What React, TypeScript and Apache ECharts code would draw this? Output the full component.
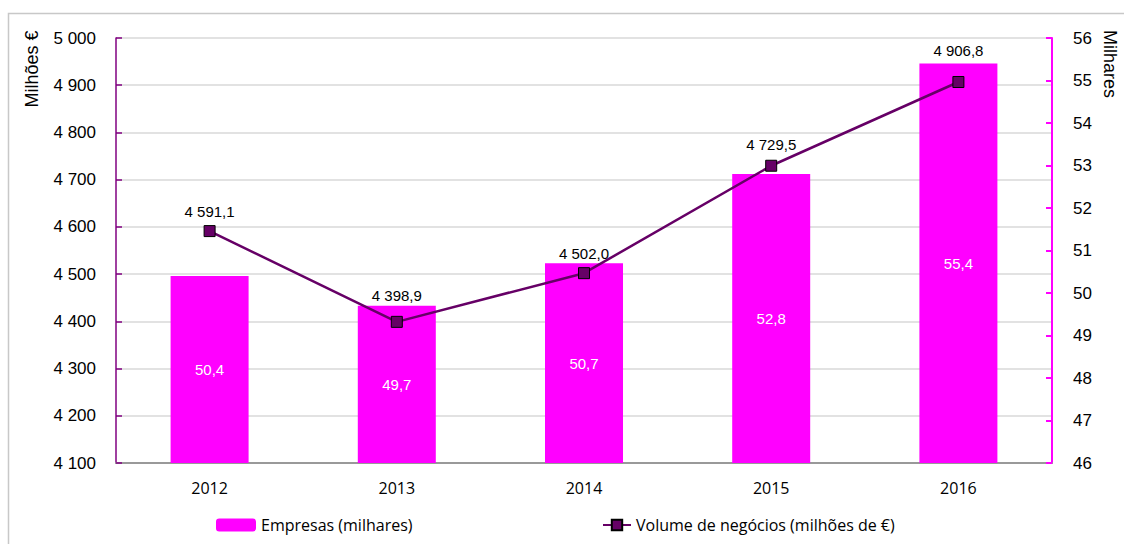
import React, { useEffect, useRef } from "react";
import * as echarts from "echarts";

const years = ["2012", "2013", "2014", "2015", "2016"];
const empresas = [50.4, 49.7, 50.7, 52.8, 55.4];
const volume = [4591.1, 4398.9, 4502.0, 4729.5, 4906.8];
const leftName = "Milhões €";
const rightName = "Milhares";
const barName = "Empresas (milhares)";
const lineName = "Volume de negócios (milhões de €)";
// label spacing above each line point (style, not data)
const lineLabelGap = [6, 13, 6, 8, 18];

function fmtThousands(v: number, decimals: number): string {
  const fixed = v.toFixed(decimals);
  const [intPart, dec] = fixed.split(".");
  const withSpace = intPart.replace(/\B(?=(\d{3})+(?!\d))/g, " ");
  return dec !== undefined ? withSpace + "," + dec : withSpace;
}

export default function App() {
  const ref = useRef<HTMLDivElement>(null);
  useEffect(() => {
    document.body.style.margin = "0";
    const chart = echarts.init(ref.current!, null, { renderer: "svg" });
    const axisFont = "Arial, 'Liberation Sans', sans-serif";
    const calibri = "'Open Sans', 'Noto Sans', sans-serif";
    chart.setOption({
      animation: false,
      backgroundColor: "#ffffff",
      grid: { left: 116, right: 72, top: 38, height: 425, containLabel: false },
      graphic: [
        {
          type: "rect",
          shape: { x: 8.5, y: 13.5, width: 1130, height: 560 },
          style: { fill: "none", stroke: "#c8c8c8", lineWidth: 1.5 },
          silent: true,
          z: -10,
        },
        {
          type: "text",
          x: 32,
          y: 69,
          rotation: Math.PI / 2,
          style: {
            text: leftName,
            fill: "#000",
            font: "18px Arial, 'Liberation Sans', sans-serif",
            align: "center",
            verticalAlign: "middle",
          },
        },
        {
          type: "text",
          x: 1110,
          y: 64,
          rotation: -Math.PI / 2,
          style: {
            text: rightName,
            fill: "#000",
            font: "18px Arial, 'Liberation Sans', sans-serif",
            align: "center",
            verticalAlign: "middle",
          },
        },
      ],
      legend: [
        {
          data: [barName],
          left: 211,
          top: 512,
          itemWidth: 40,
          itemHeight: 13,
          itemGap: 4,
          textStyle: { fontFamily: calibri, fontSize: 16, color: "#000" },
        },
        {
          data: [lineName],
          left: 597,
          top: 512,
          itemWidth: 28,
          itemHeight: 13,
          textStyle: { fontFamily: calibri, fontSize: 16, color: "#000" },
        },
      ],
      xAxis: {
        type: "category",
        data: years,
        axisLine: { lineStyle: { color: "#999999", width: 2 } },
        axisTick: { inside: true, length: 6, lineStyle: { color: "#999999", width: 2 } },
        axisLabel: { color: "#000", fontFamily: calibri, fontSize: 16, margin: 17 },
      },
      yAxis: [
        {
          type: "value",
          min: 4100,
          max: 5000,
          interval: 100,
          axisLine: { show: true, lineStyle: { color: "#800080", width: 1.5 } },
          axisTick: { show: true, inside: true, length: 6, lineStyle: { color: "#800080", width: 1.5 } },
          axisLabel: {
            color: "#000",
            fontFamily: axisFont,
            fontSize: 17,
            margin: 20,
            formatter: (v: number) => fmtThousands(v, 0),
          },
          splitLine: { show: true, lineStyle: { color: "#d9d9d9", width: 1.5 } },
        },
        {
          type: "value",
          min: 46,
          max: 56,
          interval: 1,
          startValue: 46,
          position: "right",
          axisLine: { show: true, lineStyle: { color: "#ff00ff", width: 2 } },
          axisTick: { show: true, inside: true, length: 6, lineStyle: { color: "#ff00ff", width: 2 } },
          axisLabel: { color: "#000", fontFamily: axisFont, fontSize: 17, margin: 21 },
          splitLine: { show: false },
        },
      ],
      series: [
        {
          name: barName,
          type: "bar",
          yAxisIndex: 1,
          data: empresas,
          barWidth: 78,
          itemStyle: { color: "#ff00ff" },
          label: {
            show: true,
            position: "inside",
            color: "#ffffff",
            fontFamily: axisFont,
            fontSize: 15,
            formatter: (p: any) => fmtThousands(p.value, 1),
          },
          z: 2,
        },
        {
          name: lineName,
          type: "line",
          yAxisIndex: 0,
          data: volume.map((v, i) => ({ value: v, label: { distance: lineLabelGap[i] } })),
          symbol: "rect",
          symbolSize: 11,
          lineStyle: { color: "#660066", width: 2.5 },
          itemStyle: { color: "#660066", borderColor: "#000000", borderWidth: 1 },
          label: {
            show: true,
            position: "top",
            distance: 6,
            color: "#000",
            fontFamily: axisFont,
            fontSize: 15,
            formatter: (p: any) => fmtThousands(p.value, 1),
          },
          z: 5,
        },
      ],
    });
    return () => chart.dispose();
  }, []);
  return <div ref={ref} style={{ width: 1124, height: 544 }} />;
}
